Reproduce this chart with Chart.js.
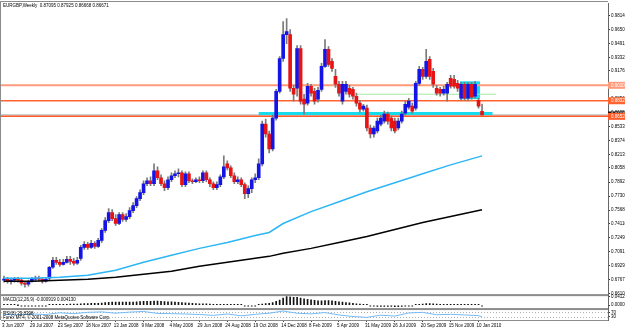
<!DOCTYPE html>
<html>
<head>
<meta charset="utf-8">
<script src="https://cdn.jsdelivr.net/npm/chart.js@4.4.1/dist/chart.umd.min.js"></script>
<style>
  html, body { margin: 0; padding: 0; background: #fff; }
  #wrap { width: 625px; height: 330px; overflow: hidden; position: relative; }
  canvas { display: block; }
</style>
</head>
<body>
<div id="wrap"><canvas id="chart" width="640" height="330"></canvas></div>
<script>
// EURGBP weekly bars, 3 Jun 2007 .. 24 Jan 2010
const opens = [
  0.6761,0.6772,0.6749,0.6761,0.6772,0.6761,0.6726,0.6715,0.6749,0.6772,
  0.6784,0.6772,0.6749,0.6784,0.6910,0.6990,0.6967,0.6944,0.6967,0.7002,
  0.6979,0.6956,0.7013,0.7139,0.7174,0.7139,0.7185,0.7151,0.7220,0.7335,
  0.7449,0.7541,0.7472,0.7415,0.7518,0.7461,0.7495,0.7564,0.7622,0.7702,
  0.7771,0.7874,0.7909,0.7874,0.8023,0.7943,0.7874,0.7828,0.7920,0.7966,
  0.7989,0.8000,0.7863,0.7989,0.7909,0.7897,0.7920,0.7909,0.8000,0.7920,
  0.7874,0.7828,0.7863,0.7954,0.8104,0.8058,0.7966,0.7897,0.7920,0.7863,
  0.7759,0.7817,0.7920,0.7943,0.8104,0.8563,0.8448,0.8276,0.8632,0.8941,
  0.9320,0.9596,0.9596,0.8976,0.8976,0.9435,0.8850,0.8804,0.8999,0.8941,
  0.8850,0.8964,0.9228,0.9424,0.9286,0.9114,0.9022,0.8827,0.8941,0.8976,
  0.8964,0.8884,0.8804,0.8735,0.8746,0.8517,0.8448,0.8483,0.8563,0.8597,
  0.8678,0.8632,0.8597,0.8517,0.8597,0.8689,0.8758,0.8769,0.8746,0.9033,
  0.9194,0.9114,0.9309,0.9171,0.8976,0.8964,0.8919,0.8919,0.9091,0.9079,
  0.9033,0.8861,0.9022,0.8861,0.9022,0.8884,0.8838,0.87095]
const highs = [
  0.6807,0.6795,0.6784,0.6795,0.6795,0.6784,0.6749,0.6761,0.6795,0.6807,
  0.6807,0.6795,0.6795,0.6921,0.7025,0.7025,0.7002,0.7002,0.7036,0.7036,
  0.7013,0.7025,0.7162,0.7208,0.7197,0.7220,0.7208,0.7243,0.7358,0.7484,
  0.7587,0.7575,0.7518,0.7541,0.7541,0.7530,0.7599,0.7656,0.7725,0.7805,
  0.7909,0.7943,0.7954,0.8104,0.8069,0.7977,0.7909,0.7954,0.8000,0.8023,
  0.8046,0.8023,0.8012,0.8012,0.7932,0.7943,0.7954,0.8023,0.8023,0.7943,
  0.7897,0.7897,0.7977,0.8196,0.8138,0.8081,0.8000,0.7954,0.7943,0.7886,
  0.7851,0.7943,0.7989,0.8161,0.8597,0.8620,0.8483,0.8666,0.8964,0.9343,
  0.9745,0.9780,0.9653,0.9010,0.9470,0.9470,0.8907,0.9033,0.9022,0.8976,
  0.8987,0.9263,0.9538,0.9458,0.9320,0.9194,0.9056,0.9056,0.9056,0.9010,
  0.8987,0.8919,0.8838,0.8792,0.8781,0.8551,0.8540,0.8632,0.8666,0.8712,
  0.8700,0.8655,0.8632,0.8632,0.8712,0.8827,0.8861,0.8804,0.9056,0.9228,
  0.9217,0.9424,0.9343,0.9205,0.9010,0.8987,0.8999,0.9045,0.9125,0.9125,
  0.9068,0.9045,0.9045,0.9045,0.9045,0.9056,0.8861,0.87925]
const lows = [
  0.6738,0.6726,0.6715,0.6738,0.6738,0.6703,0.6680,0.6692,0.6738,0.6749,
  0.6749,0.6726,0.6738,0.6761,0.6898,0.6944,0.6921,0.6933,0.6956,0.6944,
  0.6933,0.6944,0.6990,0.7116,0.7116,0.7128,0.7128,0.7139,0.7197,0.7312,
  0.7426,0.7449,0.7392,0.7403,0.7438,0.7438,0.7472,0.7541,0.7599,0.7679,
  0.7748,0.7851,0.7851,0.7851,0.7920,0.7851,0.7794,0.7805,0.7897,0.7943,
  0.7954,0.7840,0.7840,0.7886,0.7874,0.7886,0.7886,0.7886,0.7897,0.7840,
  0.7805,0.7805,0.7840,0.7932,0.8035,0.7943,0.7874,0.7874,0.7840,0.7702,
  0.7713,0.7771,0.7886,0.7920,0.8081,0.8413,0.8230,0.8253,0.8609,0.8919,
  0.9286,0.9492,0.8941,0.8827,0.8884,0.8792,0.8678,0.8781,0.8884,0.8792,
  0.8815,0.8941,0.9217,0.9228,0.9171,0.8987,0.8884,0.8792,0.8907,0.8873,
  0.8850,0.8769,0.8700,0.8712,0.8483,0.8402,0.8413,0.8460,0.8540,0.8574,
  0.8563,0.8483,0.8460,0.8494,0.8574,0.8666,0.8735,0.8689,0.8723,0.9010,
  0.9079,0.9091,0.9079,0.8987,0.8896,0.8884,0.8896,0.8827,0.8976,0.8976,
  0.8941,0.8838,0.8838,0.8838,0.8850,0.8861,0.8746,0.86668]
const closes = [
  0.6772,0.6749,0.6761,0.6772,0.6761,0.6726,0.6715,0.6749,0.6772,0.6784,
  0.6772,0.6749,0.6772,0.6910,0.6990,0.6967,0.6944,0.6967,0.7002,0.6979,
  0.6956,0.6990,0.7139,0.7174,0.7139,0.7185,0.7151,0.7220,0.7335,0.7449,
  0.7541,0.7472,0.7415,0.7518,0.7461,0.7495,0.7564,0.7622,0.7702,0.7771,
  0.7874,0.7909,0.7874,0.8023,0.7943,0.7874,0.7828,0.7920,0.7966,0.7989,
  0.8000,0.7863,0.7989,0.7909,0.7897,0.7920,0.7909,0.8000,0.7920,0.7874,
  0.7828,0.7863,0.7954,0.8069,0.8058,0.7966,0.7897,0.7920,0.7863,0.7759,
  0.7817,0.7920,0.7943,0.8104,0.8563,0.8448,0.8276,0.8632,0.8941,0.9320,
  0.9596,0.9630,0.8976,0.8907,0.9435,0.8827,0.8792,0.8999,0.8919,0.8827,
  0.8953,0.9228,0.9424,0.9252,0.9205,0.9022,0.8919,0.9022,0.9022,0.8907,
  0.8884,0.8804,0.8735,0.8769,0.8517,0.8448,0.8517,0.8597,0.8632,0.8678,
  0.8597,0.8517,0.8483,0.8597,0.8678,0.8792,0.8827,0.8712,0.9033,0.9194,
  0.9114,0.9286,0.9114,0.9022,0.8919,0.8919,0.8964,0.9022,0.8999,0.8999,
  0.8976,0.9022,0.8861,0.9022,0.8873,0.9022,0.8769,0.86671]

// MACD(12,26,9) main line, one value per bar
const macd = [
  0.0004,0.0003,0.0002,0.0001,0.0000,-0.0003,-0.0006,-0.0006,-0.0004,-0.0002,
  -0.0001,-0.0002,-0.0001,0.0009,0.0024,0.0033,0.0038,0.0042,0.0047,0.0049,
  0.0048,0.0049,0.0060,0.0071,0.0077,0.0083,0.0085,0.0091,0.0104,0.0121,
  0.0139,0.0144,0.0141,0.0145,0.0143,0.0142,0.0145,0.0150,0.0158,0.0166,
  0.0177,0.0184,0.0184,0.0192,0.0188,0.0177,0.0164,0.0158,0.0153,0.0146,
  0.0139,0.0121,0.0114,0.0100,0.0088,0.0078,0.0069,0.0067,0.0059,0.0048,
  0.0035,0.0026,0.0026,0.0035,0.0038,0.0033,0.0022,0.0015,0.0005,-0.0011,
  -0.0019,-0.0017,-0.0014,0.0003,0.0052,0.0080,0.0088,0.0123,0.0175,0.0240,
  0.0330,0.0413,0.0390,0.0362,0.0370,0.0330,0.0292,0.0276,0.0252,0.0222,
  0.0201,0.0205,0.0218,0.0212,0.0201,0.0181,0.0157,0.0141,0.0126,0.0108,
  0.0090,0.0070,0.0049,0.0033,0.0003,-0.0025,-0.0043,-0.0052,-0.0053,-0.0050,
  -0.0051,-0.0058,-0.0066,-0.0064,-0.0054,-0.0035,-0.0019,-0.0011,0.0014,0.0042,
  0.0056,0.0077,0.0077,0.0070,0.0057,0.0047,0.0040,0.0040,0.0035,0.0031,
  0.0024,0.0024,0.0014,0.0017,0.0010,0.0012,0.0003,-0.0009]

// moving averages, read at a few bars
const maIdx = [0, 8, 16, 24, 32, 40, 48, 56, 64, 72, 76, 80, 88, 96, 104, 112, 120, 128, 137]
const maBlue = [0.6784,0.6784,0.6795,0.6818,0.6875,0.6967,0.7048,0.7128,0.7197,0.7277,
  0.7312,0.7415,0.7552,0.7667,0.7782,0.7886,0.7989,0.8092,0.8196]
const maBlack = [0.6749,0.6749,0.6761,0.6772,0.6795,0.6829,0.6864,0.6921,0.6967,0.7013,
  0.7036,0.7071,0.7128,0.7197,0.7265,0.7346,0.7426,0.7495,0.7575]

// RSI(8)
const rsiIdx = [0,4,8,12,16,20,24,28,32,36,40,44,48,52,56,60,64,68,72,76,80,84,88,92,96,
  100,104,108,112,116,120,124,128,132,136,137]
const rsiVals = [52,46,55,50,66,58,70,74,62,72,78,60,58,55,50,42,55,38,52,62,82,62,56,68,46,
  32,24,44,36,64,70,48,52,46,40,29.84]

const dateTicks = ['3 Jun 2007','29 Jul 2007','23 Sep 2007','18 Nov 2007','13 Jan 2008','9 Mar 2008',
  '4 May 2008','29 Jun 2008','24 Aug 2008','19 Oct 2008','14 Dec 2008','8 Feb 2009','5 Apr 2009',
  '31 May 2009','26 Jul 2009','20 Sep 2009','15 Nov 2009','10 Jan 2010']
const priceTicks = [0.98140,0.96505,0.94910,0.93325,0.91760,0.90150,0.88560,0.86950,0.85335,0.83740,
  0.82130,0.80580,0.78925,0.77300,0.75680,0.74110,0.72490,0.70915,0.69295,0.67675,0.66100]
const macdTicks = [0.04129, 0]
const rsiTicks = [70, 30]

// drawn objects: horizontal levels, bid, cyan band, green line, cyan zone
const levelPrices = [0.9010, 0.8832, 0.8652]
const bidPrice = 0.86671
const bandLine = [0.8686, 73, 140]      // price, from bar, to bar
const trendLine = [0.8907, 101, 141]
const zone = [0.9056, 0.8850, 130.7, 136.4] // top, bottom, from bar, to bar

const FONT = '"Liberation Sans", Arial, sans-serif'
const upColor = '#1414e6'
const downColor = '#e61414'
const levelColors = ['#ff9a7a', '#ff6430', '#ff5a28']

const mtObjects = {
  id: 'mtObjects',
  beforeDatasetsDraw(chart) {
    const { ctx, chartArea: a, scales } = chart
    const x = scales.x, y = scales.y, r = scales.rsi
    ctx.save()
    ctx.beginPath()
    ctx.rect(a.left, y.top, a.right - a.left, y.bottom - y.top)
    ctx.clip()
    const hline = (p, x0, x1, color, w) => {
      const py = y.getPixelForValue(p)
      ctx.strokeStyle = color
      ctx.lineWidth = w
      ctx.beginPath(); ctx.moveTo(x0, py); ctx.lineTo(x1, py); ctx.stroke()
    }
    // zone
    const zx0 = x.getPixelForValue(zone[2]), zx1 = x.getPixelForValue(zone[3])
    const zy0 = y.getPixelForValue(zone[0]), zy1 = y.getPixelForValue(zone[1])
    ctx.fillStyle = '#12dcec'
    ctx.fillRect(zx0, zy0, zx1 - zx0, zy1 - zy0)
    hline(bidPrice, a.left, a.right, '#cfcfcf', 2)
    levelPrices.forEach((p, k) => hline(p, a.left, a.right, levelColors[k], k === 0 ? 2 : 1.5))
    hline(bandLine[0], x.getPixelForValue(bandLine[1]), x.getPixelForValue(bandLine[2]), '#14dcec', 3)
    hline(trendLine[0], x.getPixelForValue(trendLine[1]), x.getPixelForValue(trendLine[2]), '#a6e6a6', 1)
    ctx.restore()

    // rsi levels
    ctx.save()
    ctx.strokeStyle = '#b0b0b0'
    ctx.lineWidth = 1
    ctx.setLineDash([1, 2])
    rsiTicks.forEach(v => {
      const py = Math.round(r.getPixelForValue(v)) + 0.5
      ctx.beginPath(); ctx.moveTo(a.left, py); ctx.lineTo(a.right, py); ctx.stroke()
    })
    ctx.restore()
  },
  afterDraw(chart) {
    const { ctx, chartArea: a, scales } = chart
    const y = scales.y, m = scales.macd, r = scales.rsi
    ctx.save()
    // panel frames
    ctx.fillStyle = '#8c8c8c'
    ctx.fillRect(0, 1, a.right, 1)
    ctx.fillRect(0, 1, 1, a.bottom - 1)
    ctx.fillRect(0, y.bottom - 2, a.right, 2)
    ctx.fillRect(0, m.bottom - 1, a.right, 2)

    // texts
    ctx.fillStyle = '#000'
    ctx.font = '4.5px ' + FONT
    ctx.textBaseline = 'middle'
    ctx.textAlign = 'left'
    const last = closes.length - 1
    ctx.fillText('EURGBP,Weekly  ' + [opens[last], highs[last], lows[last], closes[last]].map(v => v.toFixed(5)).join(' '), 3, 6)
    ctx.fillText('MACD(12,26,9) -0.000919 0.004130', 3, m.top + 4)
    ctx.fillText('RSI(8) 29.8398', 3, r.top + 4.5)
    ctx.fillText('Forex MT4, \u00a9 2001-2008 MetaQuotes Software Corp.', 3, r.bottom - 2.5)

    // price labels on the axis
    const tag = (p, bg, fg) => {
      const py = y.getPixelForValue(p)
      ctx.fillStyle = bg
      ctx.fillRect(a.right, py - 3.5, 40, 7)
      ctx.fillStyle = fg
      ctx.fillText(p.toFixed(5), a.right + 3, py)
    }
    tag(bidPrice, '#000', '#fff')
    levelPrices.forEach((p, k) => tag(p, levelColors[k], '#fff'))
    ctx.restore()
  }
}

const pts = (idx, vals) => idx.map((i, k) => ({ x: i, y: vals[k] }))
const tickFont = { family: FONT, size: 4.5 }
const rightAxis = (extra) => Object.assign({
  type: 'linear',
  position: 'right',
  stack: 'panels',
  offset: false,
  grid: { drawOnChartArea: false, drawTicks: true, tickLength: 2, color: '#333' },
  border: { color: '#666' },
  ticks: { autoSkip: false, padding: 1, color: '#000', font: tickFont },
  afterFit: s => { s.width = 32 }
}, extra)

new Chart(document.getElementById('chart'), {
  type: 'bar',
  data: {
    datasets: [
      { type: 'line', data: pts(maIdx, maBlue), borderColor: '#2db6f6', borderWidth: 1.5, pointRadius: 0, order: 1 },
      { type: 'line', data: pts(maIdx, maBlack), borderColor: '#000', borderWidth: 1.5, pointRadius: 0, order: 1 },
      {
        data: opens.map((o, i) => ({ x: i, y: [o, closes[i]] })),
        backgroundColor: closes.map((c, i) => c >= opens[i] ? upColor : downColor),
        barThickness: 3, minBarLength: 1, grouped: false, order: 2
      },
      {
        data: lows.map((l, i) => ({ x: i, y: [l, highs[i]] })),
        backgroundColor: '#7a7a7a', barThickness: 1, grouped: false, order: 3
      },
      {
        yAxisID: 'macd',
        data: macd.map((v, i) => ({ x: i, y: v })),
        backgroundColor: '#111', barThickness: 1, minBarLength: 1, grouped: false, order: 2
      },
      { type: 'line', yAxisID: 'rsi', data: pts(rsiIdx, rsiVals), borderColor: '#74baf6', borderWidth: 1, pointRadius: 0, order: 1 }
    ]
  },
  options: {
    responsive: false,
    animation: false,
    layout: { padding: { left: 1, top: 2, right: 0, bottom: 0 } },
    plugins: { legend: { display: false }, tooltip: { enabled: false } },
    scales: {
      x: {
        type: 'linear', min: -0.86, max: 173.1, offset: false,
        grid: { drawOnChartArea: false, offset: false, tickLength: 2, color: '#444' },
        border: { color: '#8c8c8c' },
        ticks: {
          align: 'start', labelOffset: -2, padding: 1, maxRotation: 0, autoSkip: false,
          color: '#000', font: tickFont,
          callback: v => dateTicks[v / 8] ?? ''
        },
        afterBuildTicks: s => { s.ticks = dateTicks.map((_, k) => ({ value: k * 8 })) },
        afterFit: s => { s.height = 10 }
      },
      y: rightAxis({
        stackWeight: 294, min: 0.6577, max: 0.9952,
        afterBuildTicks: s => { s.ticks = priceTicks.map(v => ({ value: v })) },
        ticks: { autoSkip: false, padding: 1, color: '#000', font: tickFont, callback: v => v.toFixed(5) }
      }),
      macd: rightAxis({
        stackWeight: 13, min: -0.0177, max: 0.042,
        afterBuildTicks: s => { s.ticks = macdTicks.map(v => ({ value: v })) },
        ticks: { autoSkip: false, padding: 1, color: '#000', font: tickFont, callback: v => v.toFixed(5) }
      }),
      rsi: rightAxis({
        stackWeight: 11, min: 0, max: 100,
        afterBuildTicks: s => { s.ticks = rsiTicks.map(v => ({ value: v })) },
        ticks: { autoSkip: false, padding: 1, color: '#000', font: tickFont, callback: v => String(v) }
      })
    }
  },
  plugins: [mtObjects]
})
</script>
</body>
</html>
